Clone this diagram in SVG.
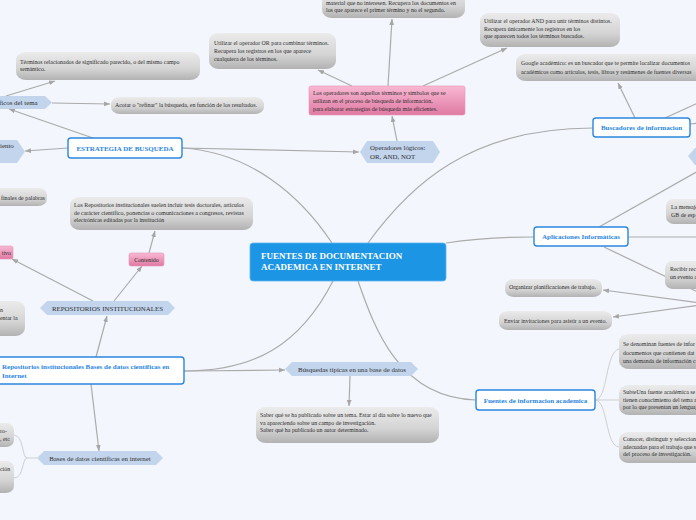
<svg xmlns="http://www.w3.org/2000/svg" width="696" height="520" viewBox="0 0 696 520">
<defs>
<linearGradient id="gg" x1="0" y1="0" x2="0" y2="1">
<stop offset="0" stop-color="#ebebeb"/><stop offset="0.6" stop-color="#d4d4d4"/><stop offset="1" stop-color="#b2b2b2"/>
</linearGradient>
<linearGradient id="pg" x1="0" y1="0" x2="0" y2="1">
<stop offset="0" stop-color="#f8b8d2"/><stop offset="1" stop-color="#e07aa3"/>
</linearGradient>
<marker id="ar" viewBox="0 0 10 10" refX="10" refY="5" markerWidth="6" markerHeight="6" markerUnits="userSpaceOnUse" orient="auto">
<path d="M0,1 L10,5 L0,9 z" fill="#a6a6a6"/>
</marker>
<style>
.gb{fill:url(#gg)}
.gt{font-family:"Liberation Serif","DejaVu Serif",serif;font-size:5.9px;fill:#2e2e2e}
.hx{fill:#c3d5ec}
.ht{font-family:"Liberation Serif","DejaVu Serif",serif;font-size:6.9px;fill:#2e2e2e}
.mb{fill:#fff;stroke:#2b86de;stroke-width:1.4}
.mt{font-family:"Liberation Serif","DejaVu Serif",serif;font-size:7px;font-weight:bold;fill:#2b86de}
.pk{fill:url(#pg);stroke:#e796b8;stroke-width:0.6}
.c{fill:none;stroke:#ababab;stroke-width:1.2}
.cl{fill:none;stroke:#cfcfcf;stroke-width:1}
.ca{marker-end:url(#ar)}
</style>
</defs>
<rect width="696" height="520" fill="#f3f6fd"/>

<g id="connectors">
<path class="c" d="M332,243 C300,195 250,152 182,148"/>
<path class="c ca" d="M182,148 L359,152"/>
<path class="c ca" d="M68,148 L25,151"/>
<path class="c ca" d="M93,138 L9,109"/>
<path class="c ca" d="M6,96 L55,81"/>
<path class="c ca" d="M52,103 L110,104"/>
<path class="c ca" d="M397,141 L392,116"/>
<path class="c ca" d="M352,86 L318,70"/>
<path class="c ca" d="M388,86 L392,19"/>
<path class="c ca" d="M423,86 L507,48"/>
<path class="c" d="M368,243 C410,185 470,128 593,128"/>
<path class="c ca" d="M635,118 L618,83"/>
<path class="c" d="M665,118 L700,102"/>
<path class="c" d="M690,124 L700,123"/>
<path class="c" d="M446,243 C480,238 510,237 534,237"/>
<path class="c" d="M599,227 L700,170"/>
<path class="c" d="M628,237 L700,237"/>
<path class="c" d="M604,247 L700,293"/>
<path class="c ca" d="M700,303 L603,290"/>
<path class="c ca" d="M700,305 L613,317"/>
<path class="c" d="M358,281 C375,330 400,398 476,400"/>
<path class="cl" d="M595,400 C608,400 605,352 619,349"/>
<path class="cl" d="M595,400 L619,400"/>
<path class="cl" d="M595,400 C608,400 605,446 619,447"/>
<path class="c" d="M333,281 C300,345 255,371 184,371"/>
<path class="c ca" d="M184,371 L285,370"/>
<path class="c ca" d="M350,376 L349,406"/>
<path class="c ca" d="M96,357 L107,316"/>
<path class="c ca" d="M91,384 L99,451"/>
<path class="c ca" d="M114,301 L142,266"/>
<path class="c ca" d="M149,253 L155,231"/>
<path class="c ca" d="M93,301 L12,259"/>
<path class="cl" d="M37,458 L27,458 C22,458 24,436 14,435"/>
<path class="cl" d="M27,458 C22,458 24,478 14,478"/>
</g>

<g id="central">
<rect x="250" y="243" width="196" height="38" rx="3" fill="#1b95e4" stroke="#62b4ee" stroke-width="0.8"/>
<text x="261" y="259" font-family="Liberation Serif,DejaVu Serif,serif" font-size="9" font-weight="bold" fill="#fff">FUENTES DE DOCUMENTACION</text>
<text x="261" y="270" font-family="Liberation Serif,DejaVu Serif,serif" font-size="9" font-weight="bold" fill="#fff">ACADEMICA EN INTERNET</text>
</g>

<g id="estrategia">
<rect class="mb" x="68" y="138" width="114" height="20" rx="3"/>
<text class="mt" x="125" y="150.5" text-anchor="middle">ESTRATEGIA DE BUSQUEDA</text>
</g>
<g id="buscadores">
<rect class="mb" x="593" y="118" width="97" height="19" rx="3"/>
<text class="mt" x="641.5" y="130" text-anchor="middle">Buscadores de informacion</text>
</g>
<g id="aplicaciones">
<rect class="mb" x="534" y="227" width="94" height="19" rx="3"/>
<text class="mt" x="581" y="239" text-anchor="middle">Aplicaciones Informáticas</text>
</g>
<g id="fuentes">
<rect class="mb" x="476" y="390" width="119" height="20" rx="3"/>
<text class="mt" x="535.5" y="402.5" text-anchor="middle">Fuentes de informacion academica</text>
</g>
<g id="repositorios-box">
<rect class="mb" x="-5" y="357" width="189" height="27" rx="3"/>
<text class="mt" x="2" y="369">Repositorios institucionales Bases de datos cientificas en</text>
<text class="mt" x="2" y="377.5">Internet</text>
</g>

<g id="operadores">
<path class="hx" d="M360,152 L367,141 L433,141 L440,152 L433,163 L367,163 z"/>
<text class="ht" x="370" y="150">Operadores lógicos:</text>
<text class="ht" x="370" y="158.5">OR, AND, NOT</text>
</g>
<g id="repos-hex">
<path class="hx" d="M40,308 L47,301 L168,301 L175,308 L168,315 L47,315 z"/>
<text class="ht" x="107.5" y="310.5" text-anchor="middle">REPOSITORIOS INSTITUCIONALES</text>
</g>
<g id="bases-hex">
<path class="hx" d="M37,458 L44,451 L156,451 L163,458 L156,465 L44,465 z"/>
<text class="ht" x="100" y="460.5" text-anchor="middle">Bases de datos científicas en internet</text>
</g>
<g id="busquedas-hex">
<path class="hx" d="M285,369 L292,362 L411,362 L418,369 L411,376 L292,376 z"/>
<text class="ht" x="352" y="371.5" text-anchor="middle">Búsquedas típicas en una base de datos</text>
</g>
<g id="ficos-hex">
<path class="hx" d="M-10,102 L-3,96 L45,96 L52,102.5 L45,109 L-3,109 z"/>
<text class="ht" x="-1" y="105">ficos del tema</text>
</g>
<g id="iento-hex">
<path class="hx" d="M-10,151 L-3,140 L17,140 L25,151.5 L17,163 L-3,163 z"/>
<text class="ht" x="0" y="148">iento</text>
</g>
<g id="right-hex">
<path class="hx" d="M688,156 L695,148 L710,148 L710,165 L695,165 z"/>
</g>

<g id="pink-operadores">
<rect class="pk" x="309" y="86" width="156" height="29" rx="2"/>
<text class="gt" x="313" y="95">Los operadores son aquellos términos y símbolos que se</text>
<text class="gt" x="313" y="103">utilizan en el proceso de búsqueda de información,</text>
<text class="gt" x="313" y="111">para elaborar estrategias de búsqueda más eficientes.</text>
</g>
<g id="contenido">
<rect class="pk" x="129" y="253" width="35" height="13" rx="2"/>
<text class="gt" x="146.5" y="261.5" text-anchor="middle">Contenido</text>
</g>
<g id="tivo">
<rect class="pk" x="-5" y="246" width="18" height="13" rx="2"/>
<text class="gt" x="11" y="254.5" text-anchor="end">tivo</text>
</g>

<g id="terminos">
<rect class="gb" x="16" y="52" width="184" height="28" rx="10" ry="8"/>
<text class="gt" x="20" y="63.5">Términos relacionados de significado parecido, o del mismo campo</text>
<text class="gt" x="20" y="71">semántico.</text>
</g>
<g id="acotar">
<rect class="gb" x="111" y="97" width="153" height="17" rx="9" ry="7"/>
<text class="gt" x="115" y="107">Acotar o "refinar" la búsqueda, en función de los resultados.</text>
</g>
<g id="or">
<rect class="gb" x="209" y="33" width="127" height="36" rx="10" ry="8"/>
<text class="gt" x="214" y="45">Utilizar el operador OR para combinar términos.</text>
<text class="gt" x="214" y="53">Recupera los registros en los que aparece</text>
<text class="gt" x="214" y="60.5">cualquiera de los términos.</text>
</g>
<g id="not">
<rect class="gb" x="322" y="-12" width="143" height="30" rx="10" ry="8"/>
<text class="gt" x="326" y="4.5">material que no interesen. Recupera los documentos en</text>
<text class="gt" x="326" y="11.5">los que aparece el primer término y no el segundo.</text>
</g>
<g id="and">
<rect class="gb" x="480" y="13" width="140" height="34" rx="10" ry="8"/>
<text class="gt" x="484" y="23">Utilizar el operador AND para unir términos distintos.</text>
<text class="gt" x="484" y="30.5">Recupera únicamente los registros en los</text>
<text class="gt" x="484" y="38">que aparecen todos los términos buscados.</text>
</g>
<g id="google">
<rect class="gb" x="516" y="54" width="194" height="27" rx="10" ry="8"/>
<text class="gt" x="521" y="65">Google académico: es un buscador que te permite localizar documentos</text>
<text class="gt" x="521" y="74">académicos como artículos, tesis, libros y resúmenes de fuentes diversas</text>
</g>
<g id="mensaje">
<rect class="gb" x="666" y="199" width="44" height="25" rx="8" ry="7"/>
<text class="gt" x="671" y="209">La mensaje</text>
<text class="gt" x="671" y="217">GB de esp</text>
</g>
<g id="recibir">
<rect class="gb" x="665" y="261" width="45" height="28" rx="8" ry="7"/>
<text class="gt" x="670" y="271">Recibir rec</text>
<text class="gt" x="670" y="279">un evento a</text>
</g>
<g id="organizar">
<rect class="gb" x="505" y="279" width="97" height="18" rx="9" ry="7"/>
<text class="gt" x="509" y="289">Organizar planificaciones de trabajo.</text>
</g>
<g id="enviar">
<rect class="gb" x="499" y="311" width="113" height="19" rx="9" ry="7"/>
<text class="gt" x="504" y="323">Enviar invitaciones para asistir a un evento.</text>
</g>
<g id="fuente-a">
<rect class="gb" x="619" y="334" width="91" height="35" rx="10" ry="8"/>
<text class="gt" x="623" y="346">Se denominan fuentes de infor</text>
<text class="gt" x="623" y="355">documentos que contienen dat</text>
<text class="gt" x="623" y="363">una demanda de información c</text>
</g>
<g id="fuente-b">
<rect class="gb" x="619" y="385" width="91" height="30" rx="10" ry="8"/>
<text class="gt" x="623" y="394">SubteUna fuente académica se</text>
<text class="gt" x="623" y="401.5">tienen conocimiento del tema a</text>
<text class="gt" x="623" y="409">por lo que presentan un lenguaj</text>
</g>
<g id="fuente-c">
<rect class="gb" x="619" y="432" width="91" height="31" rx="10" ry="8"/>
<text class="gt" x="623" y="441">Conocer, distinguir y seleccionar</text>
<text class="gt" x="623" y="448.5">adecuadas para el trabajo que s</text>
<text class="gt" x="623" y="456">del proceso de investigación.</text>
</g>
<g id="saber">
<rect class="gb" x="256" y="407" width="183" height="36" rx="10" ry="8"/>
<text class="gt" x="260" y="417">Saber qué se ha publicado sobre un tema. Estar al día sobre lo nuevo que</text>
<text class="gt" x="260" y="425">va apareciendo sobre un campo de investigación.</text>
<text class="gt" x="260" y="432">Saber qué ha publicado un autor determinado.</text>
</g>
<g id="repos-contenido">
<rect class="gb" x="70" y="197" width="183" height="33" rx="10" ry="8"/>
<text class="gt" x="74" y="207">Los Repositorios institucionales suelen incluir tesis doctorales, artículos</text>
<text class="gt" x="74" y="214.5">de carácter científico, ponencias o comunicaciones a congresos, revistas</text>
<text class="gt" x="74" y="222">electrónicas editadas por la institución</text>
</g>
<g id="finales">
<rect class="gb" x="-12" y="188" width="59" height="18" rx="9" ry="7"/>
<text class="gt" x="1" y="199.5">finales de palabras</text>
</g>
<g id="left-box">
<rect class="gb" x="-12" y="301" width="37" height="35" rx="10" ry="8"/>
<text class="gt" x="0" y="312">n</text>
<text class="gt" x="0" y="320">entar la</text>
</g>
<g id="bottom-box-1">
<rect class="gb" x="-12" y="423" width="26" height="24" rx="8" ry="7"/>
<text class="gt" x="0" y="433">ro-</text>
<text class="gt" x="0" y="441">, etc</text>
</g>
<g id="bottom-box-2">
<rect class="gb" x="-12" y="461" width="26" height="32" rx="8" ry="7"/>
<text class="gt" x="0" y="471">ción</text>
</g>
</svg>
